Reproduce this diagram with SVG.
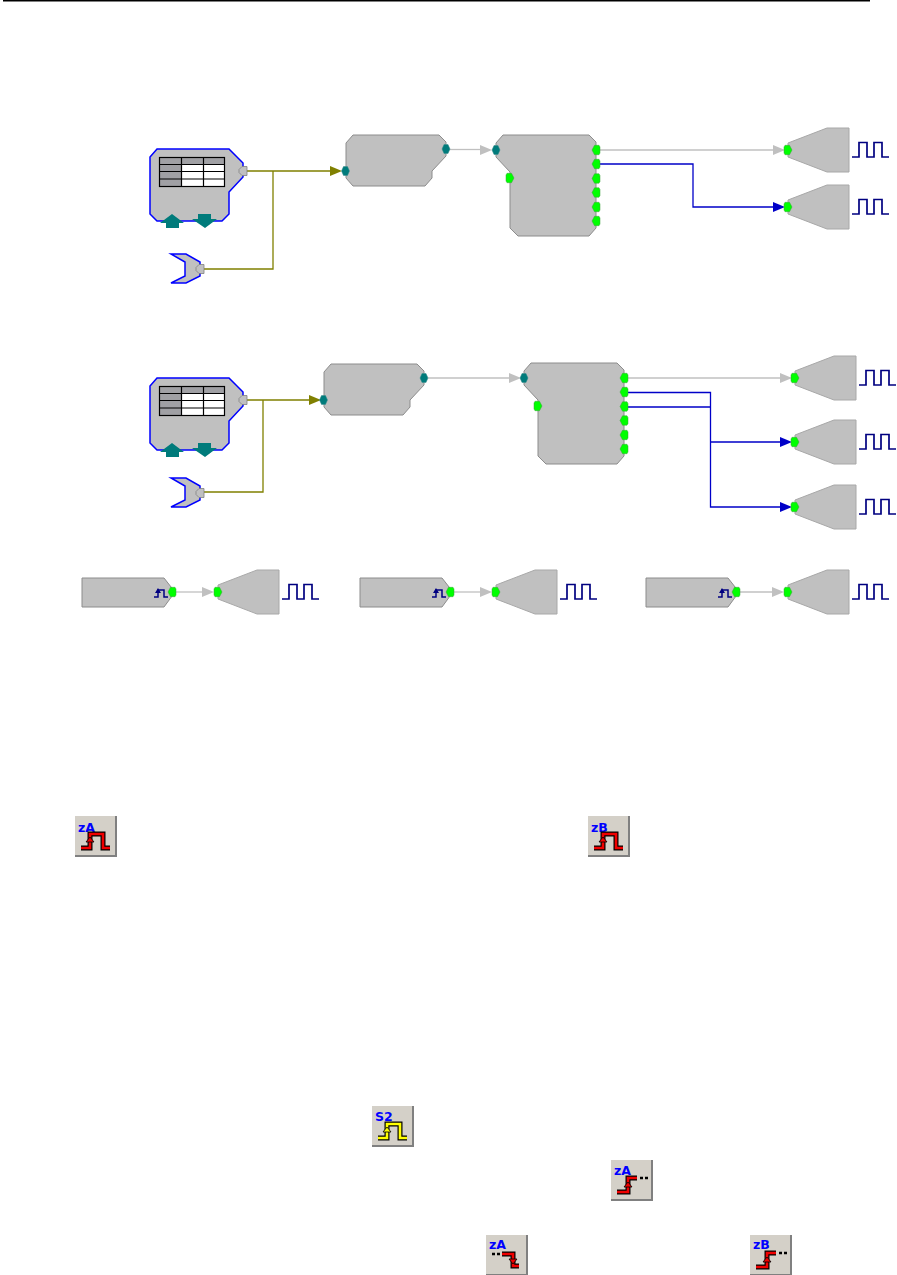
<svg xmlns="http://www.w3.org/2000/svg" xmlns:xlink="http://www.w3.org/1999/xlink" width="897" height="1275" viewBox="0 0 897 1275">
<style>
.gate{fill:#c0c0c0;stroke:#0000ff;stroke-width:1.5}
.body{fill:#c0c0c0;stroke:#8c8c8c;stroke-width:1}
.out{fill:#c0c0c0;stroke:#a8a8a8;stroke-width:1}
.green{fill:#00ff00;stroke:#3fa03f;stroke-width:.5}
.teal{fill:#007b7b;stroke:#3f8f8f;stroke-width:.5}
.grayp{fill:#c0c0c0;stroke:#808080;stroke-width:.8}
.pulse{fill:none;stroke:#000080;stroke-width:1.7}
.w{fill:none;stroke-width:1.3}
.wo{stroke:#808000}.wg{stroke:#c0c0c0}.wb{stroke:#0000c8}
.ao{fill:#808000}.ag{fill:#c0c0c0}.ab{fill:#0000c8}
.btn{fill:#d4d0c8}.shade{fill:#808080}
.ic{font-family:"DejaVu Sans",sans-serif;font-weight:700;font-size:12.500px;fill:#0000ff}
.blk{fill:none;stroke:#000;stroke-width:5}
.red{fill:none;stroke:#f00000;stroke-width:2.600}
.yel{fill:none;stroke:#ffff00;stroke-width:2.600}
.cell{stroke:#000;stroke-width:1.200}
</style>
<defs>
<polygon id="pr" points="-4,0 -1.500,-4.700 3,-4.700 4,-3 4,3 3,4.700 -1.500,4.700"/>
<polygon id="pl" points="4,0 1.500,-4.700 -3,-4.700 -4,-3 -4,3 -3,4.700 1.500,4.700"/>
<polygon id="ph" points="-4,0 -2,-4.500 2,-4.500 4,0 2,4.500 -2,4.500"/>
<path id="pg" d="M-4,-1.500 L-1,-4.500 H4 V4.500 H-1 L-4,1.500 Z"/>
<g id="tableNode">
<polygon class="gate" points="157,149 229,149 243,163 243,177 229,192 229,214 222,221 157,221 150,214 150,157"/>
<rect x="159" y="157" width="66" height="7" fill="#a0a0a4"/>
<rect x="159" y="164" width="22" height="22" fill="#a0a0a4"/>
<rect x="181" y="164" width="44" height="22" fill="#fff"/>
<g class="cell" fill="none">
<rect x="159.500" y="157.500" width="65" height="29"/>
<path d="M159.500,164.500H224.500M159.500,171.500H224.500M159.500,179H224.500M181.500,157.500V186.500M203.500,157.500V186.500"/>
</g>
<polygon fill="#007b7b" points="172,214 184,223 179,223 179,228 166,228 166,223 160,223"/>
<polygon fill="#007b7b" points="198,214 211,214 211,219 217,219 205,228 192,219 198,219"/>
<use xlink:href="#pg" x="243" y="171" class="grayp"/>
</g>
<g id="orNode">
<polygon class="gate" points="171,254 186,254 200,262 200,276 186,283 171,283 185,276 185,262"/>
<use xlink:href="#pg" x="200" y="269" class="grayp"/>
</g>
<g id="filter">
<polygon class="body" points="353,135 439,135 446,142 446,156 432,171 432,178 425,186 353,186 346,178 346,143"/>
<use xlink:href="#ph" x="345.500" y="171" class="teal"/>
<use xlink:href="#ph" x="446" y="149" class="teal"/>
</g>
<g id="logic">
<polygon class="body" points="503,135 589,135 596,142 596,228 589,236 518,236 510,228 510,172 496,157 496,143"/>
<use xlink:href="#ph" x="496" y="150" class="teal"/>
<use xlink:href="#pl" x="510" y="178" class="green"/>
<use xlink:href="#pr" x="596" y="150" class="green"/>
<use xlink:href="#pr" x="596" y="164" class="green"/>
<use xlink:href="#pr" x="596" y="178.500" class="green"/>
<use xlink:href="#pr" x="596" y="192.500" class="green"/>
<use xlink:href="#pr" x="596" y="207" class="green"/>
<use xlink:href="#pr" x="596" y="221" class="green"/>
</g>
<g id="output">
<polygon class="out" points="788,143 827,128 849,128 849,172 827,172 788,157"/>
<use xlink:href="#pl" x="788" y="150" class="green"/>
<path class="pulse" d="M852,157H859V142.500H867V157H874V142.500H882V157H889"/>
</g>
<g id="gen">
<polygon class="body" points="82,578 164,578 175,592 164,607 82,607"/>
<path d="M154,597H158V590H164V597H168" fill="none" stroke="#000080" stroke-width="1.500"/>
<polygon points="158,588 161,593 155,593" fill="#000080"/>
<use xlink:href="#pr" x="172" y="592" class="green"/>
</g>
<polygon id="ah" points="0,-5 12,0 0,5"/>
<g id="btnBase">
<rect width="42" height="41" class="shade"/>
<rect width="40" height="39" class="btn"/>
</g>
<g id="pulseRed">
<path class="blk" d="M6,32H15V18H28V32H35"/><path class="red" d="M6,32H15V18H28V32H35"/>
<polygon points="15,21 19,26 11,26" fill="#f00000" stroke="#000" stroke-width=".8"/>
</g>
<g id="stepUp">
<path class="blk" d="M6,32H17V18H26"/><path class="red" d="M6,32H17V18H26"/>
<polygon points="17,22 21,27 13,27" fill="#f00000" stroke="#000" stroke-width=".8"/>
<path d="M29,18h3M34,18h3" stroke="#000" stroke-width="2.400" fill="none"/>
</g>
</defs>

<rect width="897" height="1275" fill="#fff"/>
<rect x="3" y="0" width="867" height="1.500" fill="#000"/>

<g id="connectors">
<path class="w wo" d="M246,171H331M273,171V269H203"/><use xlink:href="#ah" x="330" y="171" class="ao"/>
<path class="w wg" d="M449,149.500H481"/><use xlink:href="#ah" x="480" y="150" class="ag"/>
<path class="w wg" d="M599,150H774"/><use xlink:href="#ah" x="773" y="150" class="ag"/>
<path class="w wb" d="M599,164H693V207H774"/><use xlink:href="#ah" x="773" y="207" class="ab"/>
<path class="w wo" d="M246,400H310M263,400V492H203"/><use xlink:href="#ah" x="309" y="400" class="ao"/>
<path class="w wg" d="M428,378H510"/><use xlink:href="#ah" x="509" y="378" class="ag"/>
<path class="w wg" d="M628,378H781"/><use xlink:href="#ah" x="780" y="378" class="ag"/>
<path class="w wb" d="M628,392.500H710.500V507H781M628,407H710.500M710.500,442H781"/>
<use xlink:href="#ah" x="780" y="442" class="ab"/><use xlink:href="#ah" x="780" y="507" class="ab"/>
<path class="w wg" d="M175,592H203"/><use xlink:href="#ah" x="202" y="592" class="ag"/>
<path class="w wg" d="M453,592H481"/><use xlink:href="#ah" x="480" y="592" class="ag"/>
<path class="w wg" d="M739,592H773"/><use xlink:href="#ah" x="772" y="592" class="ag"/>
</g>

<g id="n-table1"><use xlink:href="#tableNode"/></g>
<g id="n-or1"><use xlink:href="#orNode"/></g>
<g id="n-filter1"><use xlink:href="#filter"/></g>
<g id="n-logic1"><use xlink:href="#logic"/></g>
<g id="n-out1"><use xlink:href="#output"/></g>
<g id="n-out2"><use xlink:href="#output" y="57"/></g>

<g id="n-table2"><use xlink:href="#tableNode" y="229"/></g>
<g id="n-or2"><use xlink:href="#orNode" y="224"/></g>
<g id="n-filter2"><use xlink:href="#filter" x="-22" y="229"/></g>
<g id="n-logic2"><use xlink:href="#logic" x="28" y="228"/></g>
<g id="n-out3"><use xlink:href="#output" x="7" y="228"/></g>
<g id="n-out4"><use xlink:href="#output" x="7" y="292"/></g>
<g id="n-out5"><use xlink:href="#output" x="7" y="357"/></g>

<g id="n-gen1"><use xlink:href="#gen"/></g>
<g id="n-out6"><use xlink:href="#output" x="-570" y="442"/></g>
<g id="n-gen2"><use xlink:href="#gen" x="278"/></g>
<g id="n-out7"><use xlink:href="#output" x="-292" y="442"/></g>
<g id="n-gen3"><use xlink:href="#gen" x="564"/></g>
<g id="n-out8"><use xlink:href="#output" y="442"/></g>

<g id="btn-zA1" transform="translate(75,816)"><use xlink:href="#btnBase"/><text class="ic" x="3" y="16">zA</text><use xlink:href="#pulseRed"/></g>
<g id="btn-zB1" transform="translate(588,816)"><use xlink:href="#btnBase"/><text class="ic" x="3" y="16">zB</text><use xlink:href="#pulseRed"/></g>
<g id="btn-S2" transform="translate(372,1106)"><use xlink:href="#btnBase"/><text class="ic" x="3" y="15">S2</text>
<path class="blk" d="M6,32H15V18H28V32H35"/><path class="yel" d="M6,32H15V18H28V32H35"/><polygon points="15,21 19,26 11,26" fill="#ffff00" stroke="#000" stroke-width=".8"/></g>
<g id="btn-zA2" transform="translate(611,1160)"><use xlink:href="#btnBase"/><text class="ic" x="3" y="15">zA</text><use xlink:href="#stepUp"/></g>
<g id="btn-zA3" transform="translate(486,1235)"><use xlink:href="#btnBase"/><text class="ic" x="3" y="14">zA</text>
<path d="M6,19h3M11,19h3" stroke="#000" stroke-width="2.400" fill="none"/>
<path class="blk" d="M16,19H27V31H33"/><path class="red" d="M16,19H27V31H33"/><polygon points="27,29 31,24 23,24" fill="#f00000" stroke="#000" stroke-width=".8"/></g>
<g id="btn-zB2" transform="translate(750,1235)"><use xlink:href="#btnBase"/><text class="ic" x="3" y="14">zB</text><use xlink:href="#stepUp"/></g>
</svg>
